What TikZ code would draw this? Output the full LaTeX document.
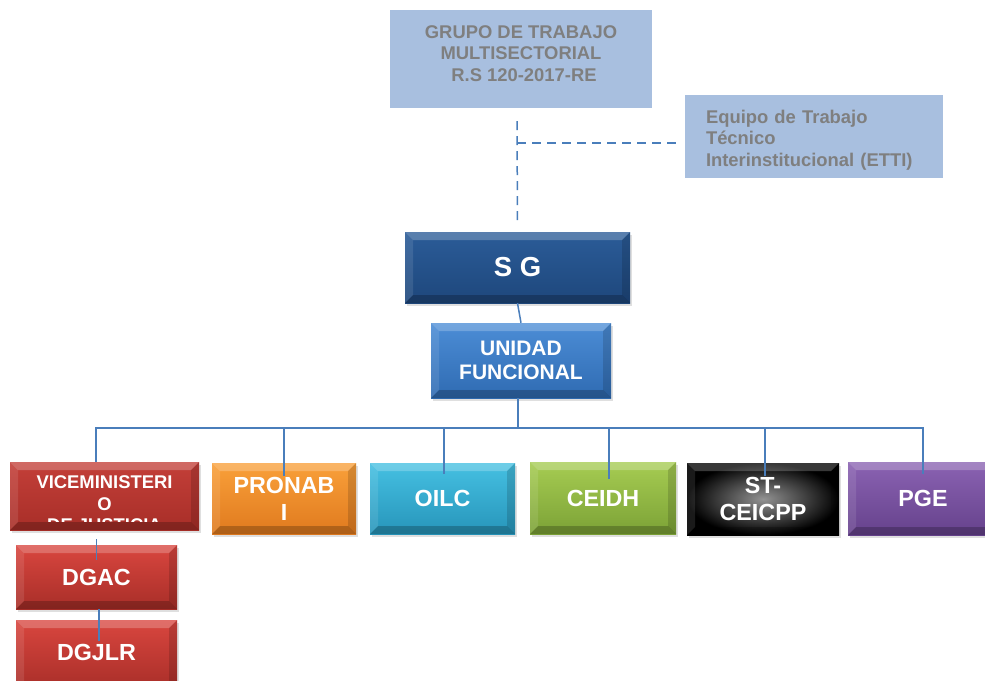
\documentclass[tikz,border=0pt]{standalone}
\usepackage{fontspec}
\setmainfont{Liberation Sans}
\usetikzlibrary{calc,shadows}
\definecolor{hdrfill}{HTML}{A8BFDF}
\definecolor{hdrtext}{HTML}{7F7F7F}
\definecolor{linec}{HTML}{4A7EBB}
\definecolor{sgA}{HTML}{2B5C98}\definecolor{sgB}{HTML}{1E477C}
\definecolor{ufA}{HTML}{4C8DD6}\definecolor{ufB}{HTML}{2F6BB2}
\definecolor{rdA}{HTML}{D9463F}\definecolor{rdB}{HTML}{A82E28}
\definecolor{orA}{HTML}{F9A03A}\definecolor{orB}{HTML}{E07A1E}
\definecolor{cyA}{HTML}{45C0E2}\definecolor{cyB}{HTML}{2795BA}
\definecolor{grA}{HTML}{A6CC52}\definecolor{grB}{HTML}{7CA236}
\definecolor{puA}{HTML}{8A62B2}\definecolor{puB}{HTML}{66428C}
\newcommand{\setfs}[2]{\fontsize{#1}{#2}\selectfont\bfseries}
\tikzset{
  hdrbox/.style={fill=hdrfill, text=hdrtext, inner sep=0pt, font=\setfs{18.4}{21.5}},
  bevel/.style={path picture={
    \fill[white,opacity=0.22] (path picture bounding box.north west) -- (path picture bounding box.north east)
       -- ([xshift=-8pt,yshift=-8pt]path picture bounding box.north east) -- ([xshift=8pt,yshift=-8pt]path picture bounding box.north west) -- cycle;
    \fill[white,opacity=0.1] (path picture bounding box.north west) -- ([xshift=8pt,yshift=-8pt]path picture bounding box.north west)
       -- ([xshift=8pt,yshift=8pt]path picture bounding box.south west) -- (path picture bounding box.south west) -- cycle;
    \fill[black,opacity=0.14] (path picture bounding box.north east) -- ([xshift=-8pt,yshift=-8pt]path picture bounding box.north east)
       -- ([xshift=-8pt,yshift=8pt]path picture bounding box.south east) -- (path picture bounding box.south east) -- cycle;
    \fill[black,opacity=0.22] (path picture bounding box.south west) -- (path picture bounding box.south east)
       -- ([xshift=-8pt,yshift=8pt]path picture bounding box.south east) -- ([xshift=8pt,yshift=8pt]path picture bounding box.south west) -- cycle;
  }},
  cbox/.style={bevel, text=white, inner sep=0pt, align=center, font=\setfs{23.3}{28},
    drop shadow={shadow xshift=1.5pt,shadow yshift=-3pt,opacity=0.25}},
  conn/.style={draw=linec, line width=1.5pt},
  dsh/.style={draw=linec, line width=1.5pt, dash pattern=on 9pt off 6pt}
}
\begin{document}
\begin{tikzpicture}[x=1pt,y=-1pt]
\useasboundingbox (0,0) rectangle (985,680);
% header boxes
\node[hdrbox, minimum width=262pt, minimum height=98pt,
  label={[text=hdrtext, font=\setfs{18.4}{21.5}, align=center, yshift=5.5pt]center:{GRUPO DE TRABAJO\\MULTISECTORIAL\\\hspace{6pt}R.S 120-2017-RE}}] (grupo) at (521,59) {};
\node[hdrbox, minimum width=258pt, minimum height=83pt,
  label={[text=hdrtext, font=\setfs{18.4}{21.7}, align=left, text width=216pt, inner sep=0pt, yshift=-3.5pt]center:{Equipo de Trabajo\\Técnico\\Interinstitucional (ETTI)}}] (etti) at (814,136.5) {};
% main boxes
\node[cbox, top color=sgA, bottom color=sgB, minimum width=225pt, minimum height=71pt, font=\setfs{27.5}{30}] (sg) at (517.5,267.5) {S G};
\node[cbox, top color=ufA, bottom color=ufB, minimum width=180pt, minimum height=75pt, font=\setfs{21}{23.5}] (uf) at (521,360.5) {UNIDAD\\FUNCIONAL};
\node[cbox, top color=rdA!90!black, bottom color=rdB, minimum width=189pt, minimum height=68pt] (vice) at (104.5,496) {};
\begin{scope}
  \clip (vice.north west) rectangle ($(vice.south east)+(0,-9)$);
  \node[text=white, inner sep=0pt, align=center, anchor=north, font=\setfs{18.4}{21.5}] (vicetxt) at ($(vice.north)+(0,14)$) {VICEMINISTERI\\O\\DE  JUSTICIA};
\end{scope}
\node[cbox, top color=orA, bottom color=orB, minimum width=144pt, minimum height=71pt, font=\setfs{23.3}{27}] (pronabi) at (284,498.5) {PRONAB\\I};
\node[cbox, top color=cyA, bottom color=cyB, minimum width=145pt, minimum height=71pt] (oilc) at (442.5,498.5) {OILC};
\node[cbox, top color=grA, bottom color=grB, minimum width=146pt, minimum height=72pt] (ceidh) at (603,498) {CEIDH};
\node[cbox, inner color=gray!85!white, outer color=black, shading=radial, minimum width=152pt, minimum height=72pt, font=\setfs{23.3}{27}] (stc) at (763,499) {ST-\\CEICPP};
\node[cbox, top color=puA, bottom color=puB, minimum width=150pt, minimum height=73pt] (pge) at (923,498.5) {PGE};
\node[cbox, top color=rdA, bottom color=rdB, minimum width=161pt, minimum height=64pt] (dgac) at (96.5,577) {DGAC};
\node[cbox, top color=rdA, bottom color=rdB, minimum width=161pt, minimum height=70pt, text depth=5pt] (dgjlr) at (96.5,655) {DGJLR};
% dashed links
\coordinate (j) at ($(grupo.south)+(-4,35)$);
\draw[dsh] ($(grupo.south)+(-4,13)$) -- ($(sg.north)+(0,-6)$);
\draw[dsh] (j) -- ($(etti.west |- j)+(-4,0)$);
% tree links
\draw[conn] (sg.south) -- (uf.north);
\draw[conn] ($(uf.south)+(-3,0)$) -- ++(0,30) coordinate (bus);
\draw[conn] ($(vice.north)+(-8.5,0)$) |- (bus) -| ($(pge.north)+(0,12)$);
\foreach \n/\dx/\dy in {pronabi/0/13, oilc/1.5/11, ceidh/6/17, stc/2/13}{
  \path ($(\n.north)+(\dx,\dy)$) coordinate (t);
  \draw[conn] (t) -- (t |- bus);
}
\draw[conn] ($(vice.south -| dgac.north)+(0,9)$) -- ($(dgac.north)+(0,15)$);
\draw[conn] ($(dgac.south)+(2.5,0)$) -- ($(dgjlr.north)+(2.5,21)$);
\end{tikzpicture}
\end{document}
